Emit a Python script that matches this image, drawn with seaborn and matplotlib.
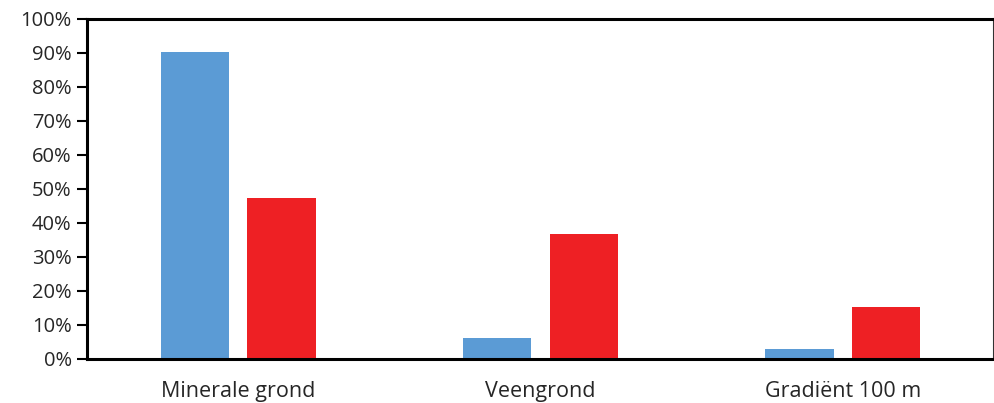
import matplotlib
matplotlib.use("Agg")
import matplotlib.pyplot as plt
import seaborn as sns
import pandas as pd
from matplotlib.ticker import PercentFormatter, MultipleLocator

# Share per soil category for the two series
categories = ["Minerale grond", "Veengrond", "Gradiënt 100 m"]
series_a = [90.2, 6.3, 2.9]
series_b = [47.3, 36.7, 15.3]
series_names = ["A", "B"]
colors = ["#5B9BD5", "#EE2024"]

df = pd.DataFrame({
    "categorie": categories * 2,
    "aandeel": series_a + series_b,
    "reeks": [series_names[0]] * 3 + [series_names[1]] * 3,
})

sns.set_style("white")
plt.rcParams["font.family"] = ["Open Sans", "DejaVu Sans"]

fig = plt.figure(figsize=(9.95, 4.03), dpi=100)
ax = fig.add_axes([87 / 995, 44 / 403, 907 / 995, 340 / 403])

sns.barplot(data=df, x="categorie", y="aandeel", hue="reeks",
            palette=colors, width=0.573, gap=0.214, ax=ax,
            legend=False, linewidth=0, saturation=1)

ax.set_ylim(0, 100)
ax.set_xlim(-0.5, 2.5)
ax.yaxis.set_major_locator(MultipleLocator(10))
ax.yaxis.set_major_formatter(PercentFormatter(decimals=0))
ax.set_xlabel("")
ax.set_ylabel("")

text_color = "#262626"
ax.tick_params(axis="y", which="major", left=True, length=7, width=1.5,
               color="black", labelsize=14.5, labelcolor=text_color, pad=4)
ax.tick_params(axis="x", bottom=False, labelsize=15.5, labelcolor=text_color, pad=12)

for side in ["left", "bottom", "top"]:
    ax.spines[side].set_visible(True)
    ax.spines[side].set_color("black")
    ax.spines[side].set_linewidth(2.2)
ax.spines["right"].set_visible(True)
ax.spines["right"].set_color("#333333")
ax.spines["right"].set_linewidth(1.5)

fig.savefig("out.png", dpi=100, facecolor="white")
